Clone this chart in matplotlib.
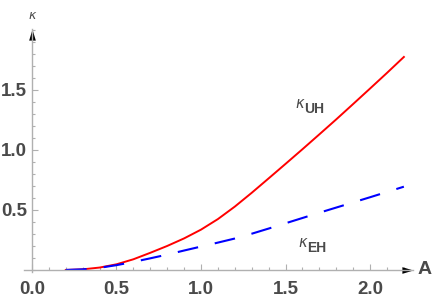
import matplotlib
matplotlib.use('Agg')
import matplotlib.pyplot as plt
from matplotlib.ticker import MultipleLocator, FixedLocator, FormatStrFormatter

# ---- data ----
A_uh = [0.2, 0.3, 0.4, 0.5, 0.6, 0.7, 0.8, 0.9, 1.0, 1.1, 1.2, 1.3, 1.4, 1.5,
        1.6, 1.7, 1.8, 1.9, 2.0, 2.1, 2.2]
k_uh = [0.0, 0.005, 0.02, 0.047, 0.089, 0.143, 0.2, 0.263, 0.336, 0.424, 0.528,
        0.643, 0.763, 0.884, 1.006, 1.13, 1.255, 1.383, 1.512, 1.642, 1.775]
A_eh = [0.2, 0.3, 0.4, 0.5, 0.6, 0.7, 0.8, 0.9, 1.0, 1.1, 1.2, 1.3, 1.4, 1.5,
        1.6, 1.7, 1.8, 1.9, 2.0, 2.1, 2.2]
k_eh = [0.0, 0.005, 0.018, 0.04, 0.067, 0.097, 0.128, 0.162, 0.195, 0.228, 0.262,
        0.302, 0.345, 0.389, 0.433, 0.477, 0.52, 0.563, 0.606, 0.65, 0.694]
x_ticks = [0.0, 0.5, 1.0, 1.5, 2.0]
y_ticks = [0.5, 1.0, 1.5]

W, H = 436, 297
fig = plt.figure(figsize=(W / 100, H / 100), dpi=100)
ax = fig.add_axes([24 / W, 1 - 272 / H, (413 - 24) / W, (272 - 29) / H])
ax.set_xlim(-0.047, 2.254)
ax.set_ylim(-0.017, 2.008)

axis_col = '#b0b0b0'
txt_col = '#4a4a4a'

for s in ['top', 'right']:
    ax.spines[s].set_visible(False)
ax.spines['left'].set_position(('data', 0))
ax.spines['bottom'].set_position(('data', 0))
for s in ['left', 'bottom']:
    ax.spines[s].set_color(axis_col)
    ax.spines[s].set_linewidth(1.0)

ax.xaxis.set_major_locator(FixedLocator(x_ticks))
ax.yaxis.set_major_locator(FixedLocator(y_ticks))
ax.xaxis.set_minor_locator(MultipleLocator(0.1))
ax.yaxis.set_minor_locator(MultipleLocator(0.1))
ax.xaxis.set_major_formatter(FormatStrFormatter('%.1f'))
ax.yaxis.set_major_formatter(FormatStrFormatter('%.1f'))
ax.tick_params(which='both', direction='in', color=axis_col, width=0.8)
ax.tick_params(which='major', length=4)
ax.tick_params(which='minor', length=2.5)
ax.tick_params(axis='x', which='major', pad=8)
ax.tick_params(axis='y', which='major', pad=3.5)
for lab in ax.get_xticklabels() + ax.get_yticklabels():
    lab.set_fontfamily('Liberation Sans')
    lab.set_fontweight('bold')
    lab.set_fontsize(13.5)
    lab.set_color(txt_col)

# arrowheads
arrow_r = [(0, 0), (-1, 0.3), (-1, -0.3), (0, 0)]
arrow_u = [(0, 0), (0.3, -1), (-0.3, -1), (0, 0)]
ax.plot([1], [0], marker=arrow_r, ms=16, color='black', mew=0,
        transform=ax.get_yaxis_transform(), clip_on=False)
ax.plot([0], [1], marker=arrow_u, ms=16, color='black', mew=0,
        transform=ax.get_xaxis_transform(), clip_on=False)

# curves
ax.plot(A_uh, k_uh, color='#ff0000', lw=1.4, clip_on=False)
ax.plot(A_eh, k_eh, color='#0000ff', lw=1.5, dashes=(10, 8.2), clip_on=False)

# axis labels
ax.text(2.28, 0.0, 'A', fontfamily='Liberation Sans', fontweight='bold',
        fontsize=14, color=txt_col, ha='left', va='center', clip_on=False)
ax.text(0.0, 2.12, 'κ', fontfamily='DejaVu Sans', fontstyle='italic',
        fontsize=9, color=txt_col, ha='center', va='center', clip_on=False)

# curve labels
def curve_label(x, y, sub):
    ax.text(x, y, 'κ', fontfamily='DejaVu Sans', fontstyle='italic',
            fontsize=10.5, color=txt_col, ha='left', va='baseline')
    ax.annotate(sub, xy=(x, y), xytext=(6.5, -3.5), textcoords='offset points',
                fontfamily='Liberation Sans', fontweight='bold', fontsize=10,
                color=txt_col, ha='left', va='baseline')

curve_label(1.556, 1.35, 'UH')
curve_label(1.574, 0.19, 'EH')

fig.savefig('out.png', dpi=100)
